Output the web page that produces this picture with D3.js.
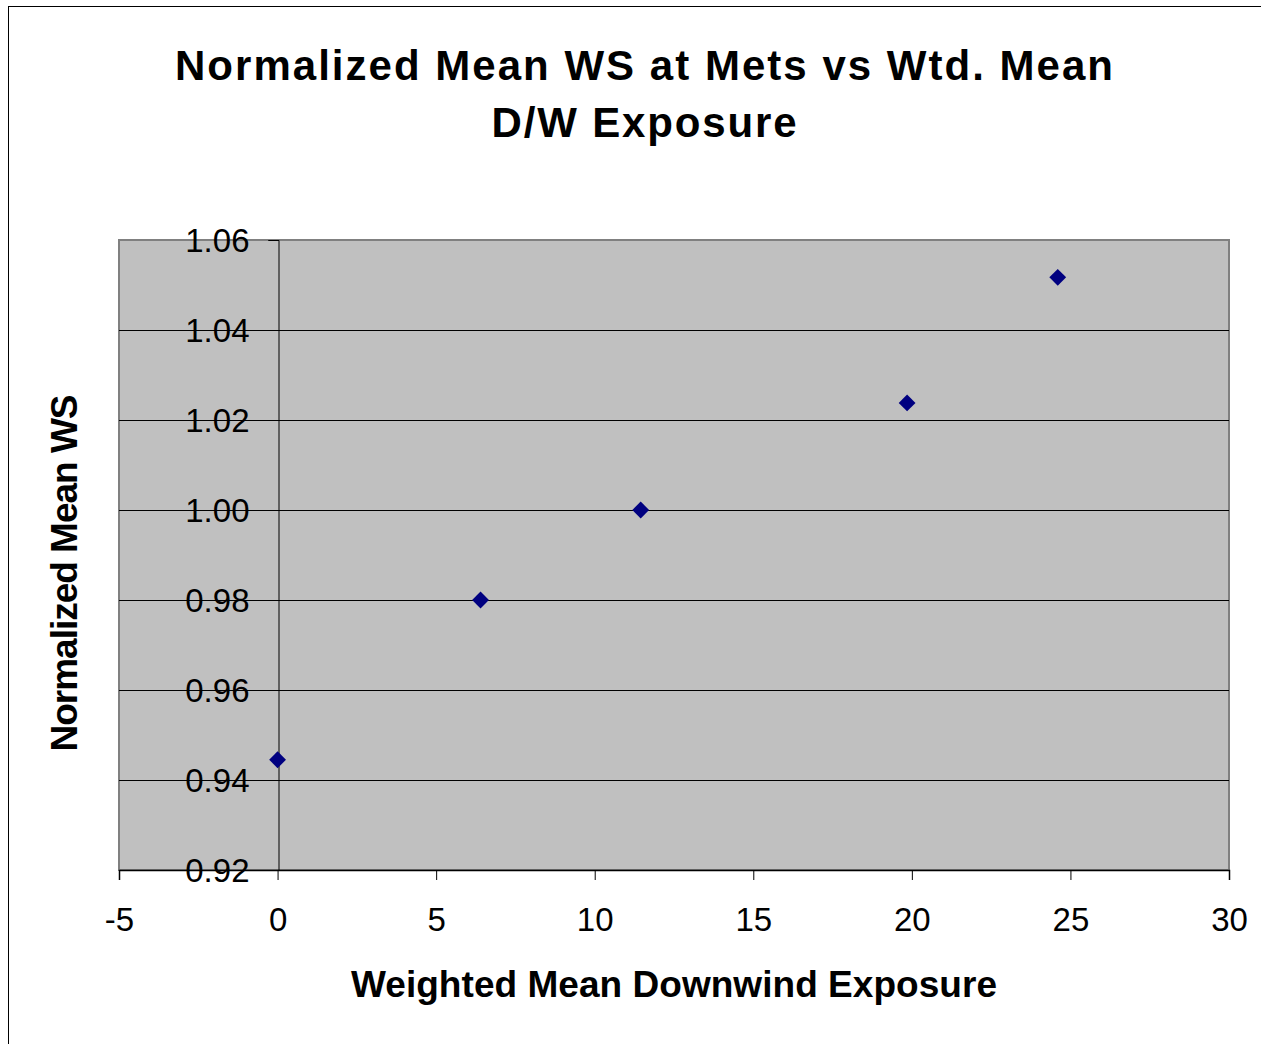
<!DOCTYPE html>
<html>
<head>
<meta charset="utf-8">
<script src="https://cdn.jsdelivr.net/npm/d3@7"></script>
<style>
  html, body { margin: 0; padding: 0; background: #fff; }
  svg { display: block; font-family: "Liberation Sans", Arial, sans-serif; }
</style>
</head>
<body>
<svg id="chart" width="1261" height="1044"></svg>
<script>
// ---- data ----
const xValues = [0, 6.4, 11.45, 19.85, 24.6];
const yValues = [0.9445, 0.980, 1.000, 1.0238, 1.0517];
const xTicks = [-5, 0, 5, 10, 15, 20, 25, 30];
const yTicks = [0.92, 0.94, 0.96, 0.98, 1.00, 1.02, 1.04, 1.06];
const titleLines = ["Normalized Mean WS at Mets vs Wtd. Mean", "D/W Exposure"];
const xTitle = "Weighted Mean Downwind Exposure";
const yTitle = "Normalized Mean WS";

// ---- layout ----
const plot = { left: 119, right: 1229, top: 240, bottom: 870 };
const svg = d3.select("#chart");

// outer chart border
svg.append("rect").attr("x", 8.5).attr("y", 6.5).attr("width", 1300).attr("height", 1100)
  .attr("fill", "#fff").attr("stroke", "#000").attr("stroke-width", 1);

const x = d3.scaleLinear().domain([-5, 30]).range([plot.left, plot.right]);
const y = d3.scaleLinear().domain([0.92, 1.06]).range([plot.bottom, plot.top]);

// plot area
svg.append("rect")
  .attr("x", plot.left).attr("y", plot.top)
  .attr("width", plot.right - plot.left).attr("height", plot.bottom - plot.top)
  .attr("fill", "#c0c0c0").attr("stroke", "#808080").attr("stroke-width", 2);

// gridlines
svg.append("g").selectAll("line").data(yTicks.filter(d => d > 0.92 && d < 1.06)).join("line")
  .attr("x1", plot.left).attr("x2", plot.right)
  .attr("y1", d => Math.round(y(d)) + 0.5).attr("y2", d => Math.round(y(d)) + 0.5)
  .attr("stroke", "#000").attr("stroke-width", 1);

// x axis (bottom)
const xAxis = svg.append("g").attr("transform", `translate(0,${plot.bottom})`)
  .call(d3.axisBottom(x).tickValues(xTicks).tickSize(10).tickPadding(28).tickFormat(d => String(d)));
xAxis.select(".domain").attr("stroke", "#000").attr("stroke-width", 1.5);
xAxis.selectAll(".tick line").attr("stroke", "#000");
xAxis.selectAll(".tick text").attr("font-size", 33).attr("fill", "#000")
  .attr("font-family", "'Liberation Sans', Arial, sans-serif");

// y axis at x = 0
const yAxis = svg.append("g").attr("transform", `translate(${Math.round(x(0)) + 0.5},0)`)
  .call(d3.axisLeft(y).tickValues(yTicks).tickSize(10).tickPadding(19).tickFormat(d3.format(".2f")));
yAxis.select(".domain").attr("stroke", "#000").attr("stroke-width", 1);
yAxis.selectAll(".tick line").attr("stroke", "#000");
yAxis.selectAll(".tick text").attr("font-size", 33).attr("fill", "#000")
  .attr("font-family", "'Liberation Sans', Arial, sans-serif").attr("dy", "0.36em");

// points
const diamond = d3.symbol().type(d3.symbolDiamond2).size(180);
svg.append("g").selectAll("path").data(xValues.map((v, i) => [v, yValues[i]])).join("path")
  .attr("d", diamond)
  .attr("transform", d => `translate(${x(d[0])},${y(d[1])})`)
  .attr("fill", "#000080");

// title
const titleY = [80, 137];
const titleW = [938, 305];
svg.append("g").selectAll("text").data(titleLines).join("text")
  .attr("x", 644).attr("y", (d, i) => titleY[i])
  .attr("text-anchor", "middle").attr("font-size", 42).attr("font-weight", "bold")
  .attr("textLength", (d, i) => titleW[i]).attr("lengthAdjust", "spacing")
  .text(d => d);

// x title
svg.append("text").attr("x", 674).attr("y", 997).attr("text-anchor", "middle")
  .attr("font-size", 37).attr("font-weight", "bold")
  .attr("textLength", 646).attr("lengthAdjust", "spacing")
  .text(xTitle);

// y title
svg.append("text").attr("transform", "translate(77,573) rotate(-90)")
  .attr("text-anchor", "middle").attr("font-size", 37).attr("font-weight", "bold")
  .attr("textLength", 357).attr("lengthAdjust", "spacing")
  .text(yTitle);
</script>
</body>
</html>
